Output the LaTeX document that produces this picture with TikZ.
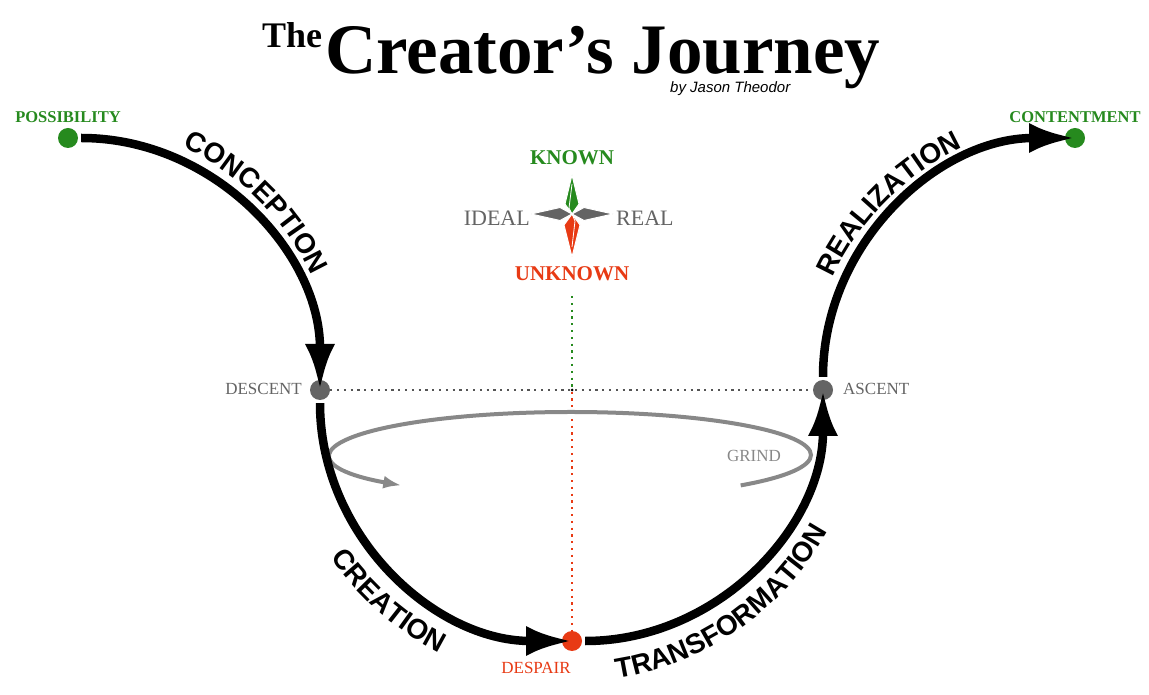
\documentclass[tikz,border=0pt]{standalone}
\usepackage{fontspec}
\setmainfont{Liberation Serif}
\newfontfamily\labsans{Liberation Sans}
\usetikzlibrary{arrows.meta,decorations.text}
\definecolor{cgreen}{RGB}{38,138,30}
\definecolor{cred}{RGB}{232,58,20}
\definecolor{cgray}{RGB}{100,100,100}
\definecolor{cgrind}{RGB}{136,136,136}
\newcommand\curvefont{\labsans\bfseries\fontsize{28}{28}\selectfont}
\begin{document}
\begin{tikzpicture}[x=1pt,y=1pt,
  dot/.style={circle,inner sep=0pt,minimum size=20pt},
  journey/.style={line width=8.5pt,-{Latex[length=46pt,width=30pt]},shorten <=3pt},
  lbl/.style={inner sep=0pt,font=\fontsize{17}{17}\selectfont},
  lblb/.style={inner sep=0pt,font=\bfseries\fontsize{16.5}{16.5}\selectfont},
  cmp/.style={inner sep=0pt,font=\fontsize{22}{22}\selectfont},
  curvelabel/.style={decorate,decoration={text along path,text align=center,text={|\curvefont|#1}}},
  dotline/.style={line width=2.2pt,dash pattern=on 2.2pt off 4.6pt},
  kite/.style={draw=white,line width=1pt,line join=round}
]
\useasboundingbox[fill=white] (0,0) rectangle (1149,694);

% title
\node[anchor=base west,inner sep=0pt,font=\bfseries\fontsize{36}{36}\selectfont] (the) at (262,646) {The};
\node[anchor=base west,inner sep=0pt,font=\bfseries\fontsize{71}{71}\selectfont] (title) at (325,620) {Creator’s Journey};
\node[anchor=base west,inner sep=0pt,font=\labsans\itshape\fontsize{15}{15}\selectfont] (by) at (670,601) {by Jason Theodor};

% dots
\node[dot,fill=cgreen] (P) at (68,556) {};
\node[dot,fill=cgray] (D) at (320,304) {};
\node[dot,fill=cred] (S) at (572,53) {};
\node[dot,fill=cgray] (A) at (823,304) {};
\node[dot,fill=cgreen] (C) at (1075,556) {};

% dot labels
\node[lblb,text=cgreen] (lP) at (68,577) {POSSIBILITY};
\node[lblb,text=cgreen] (lC) at (1075,577) {CONTENTMENT};
\node[lbl,text=cgray,anchor=east] (lD) at (302,305) {DESCENT};
\node[lbl,text=cgray,anchor=west] (lA) at (843,305) {ASCENT};
\node[lbl,text=cred] (lS) at (536,26) {DESPAIR};

% crossing lines
\coordinate (u) at (572,398);
\node[circle,fill=black,inner sep=0pt,minimum size=3pt] (x0) at (572,304) {};
\draw[dotline,cgray!85!black] (D) -- (A);
\draw[dotline,cgreen] (u) -- (x0);
\draw[dotline,cred] (x0) -- (S);

% grind loop
\coordinate (g0) at (740.7,208.6);
\draw[line width=4pt,cgrind,-{Latex[length=18pt,width=13pt]}] (g0) arc[start angle=-45,end angle=225,x radius=240pt,y radius=43pt];
\node[lbl,text=cgrind] (grind) at (754,238) {GRIND};

% journey arcs (tips reach the dot centres)
\draw[journey] (P) to[out=0,in=90] (D.center);
\draw[journey] (D) to[out=-90,in=180] (S.center);
\draw[journey] (S) to[out=0,in=-90] (A.center);
\draw[journey] (A) to[out=90,in=180] (C.center);

% curved labels
\coordinate (c1) at (68,304);
\coordinate (c2) at (572,304);
\coordinate (c4) at (1075,304);
\path[curvelabel=CONCEPTION] (c1) ++(85:269pt) arc[start angle=85,end angle=5,radius=269pt];
\path[curvelabel=CREATION] (c2) ++(184:294pt) arc[start angle=184,end angle=274,radius=294pt];
\path[curvelabel=TRANSFORMATION] (c2) ++(245:292pt) arc[start angle=245,end angle=365,radius=292pt];
\path[curvelabel=REALIZATION] (c4) ++(178:267pt) arc[start angle=178,end angle=92,radius=267pt];

% compass
\coordinate (k) at (572,480);
\fill[cgray,kite] (k) -- ++(-12,6.5) -- ++(-29,-6.5) -- ++(29,-6.5) -- cycle;
\fill[cgray,kite] (k) -- ++(12,6.5) -- ++(29,-6.5) -- ++(-29,-6.5) -- cycle;
\fill[cgreen,kite] (k) -- ++(-7,10) -- ++(7,29) -- ++(7,-29) -- cycle;
\fill[cred,kite] (k) -- ++(-8,-11) -- ++(8,-32) -- ++(8,32) -- cycle;
\draw[white,line width=0.8pt] (k) -- ++(-3,6) -- ++(3,24);
\draw[white,line width=0.8pt] (k) -- ++(3,-7) -- ++(-3,-26);
\node[cmp,text=cgreen,font=\bfseries\fontsize{21}{21}\selectfont] (known) at (572,536) {KNOWN};
\node[cmp,text=cred,font=\bfseries\fontsize{21}{21}\selectfont] (unknown) at (572,420) {UNKNOWN};
\node[cmp,text=cgray,anchor=east] (ideal) at (530,476) {IDEAL};
\node[cmp,text=cgray,anchor=west] (real) at (616,476) {REAL};
\end{tikzpicture}
\end{document}
